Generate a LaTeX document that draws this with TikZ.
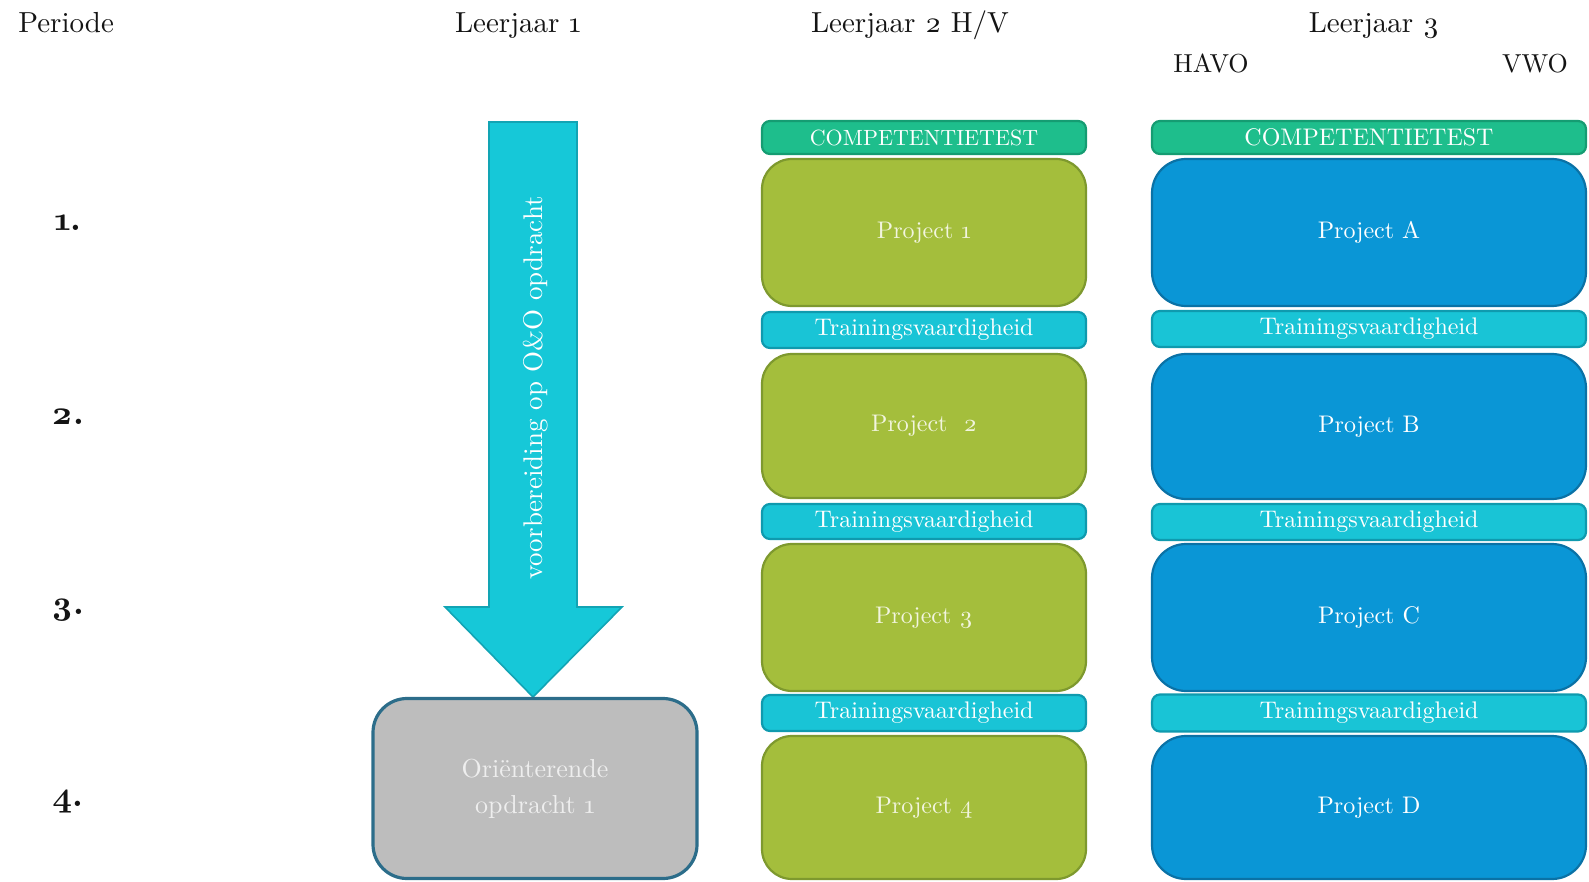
\documentclass[tikz,border=0pt]{standalone}
\usepackage{fontspec}
\setmainfont{lmroman10-regular.otf}[BoldFont=lmroman10-bold.otf,Numbers=OldStyle]
\definecolor{ctfill}{HTML}{1EBE8C}
\definecolor{ctdraw}{HTML}{159C72}
\definecolor{grfill}{HTML}{A4BE3C}
\definecolor{grdraw}{HTML}{7E992E}
\definecolor{grtext}{HTML}{F2F5DF}
\definecolor{trfill}{HTML}{19C4D6}
\definecolor{trdraw}{HTML}{0F9AAE}
\definecolor{blfill}{HTML}{0A96D6}
\definecolor{bldraw}{HTML}{0A72A6}
\definecolor{arfill}{HTML}{16C8D8}
\definecolor{ardraw}{HTML}{12A4B4}
\definecolor{gyfill}{HTML}{BDBDBD}
\definecolor{gydraw}{HTML}{2C6D8A}
\definecolor{gytext}{HTML}{EEEEEE}
\definecolor{hdtext}{HTML}{141414}
\begin{document}
\begin{tikzpicture}[x=0.5pt,y=-0.5pt,
  box/.style={draw, line width=1.1pt, inner sep=0pt, text=white},
  ctbox/.style={box, fill=ctfill, draw=ctdraw, rounded corners=4pt, minimum height=16.5pt},
  trbox/.style={box, fill=trfill, draw=trdraw, rounded corners=4pt, font=\fontsize{12}{14}\selectfont},
  gproj/.style={box, fill=grfill, draw=grdraw, rounded corners=15pt, text=grtext, font=\fontsize{12}{14}\selectfont},
  bproj/.style={box, fill=blfill, draw=bldraw, rounded corners=17pt, font=\fontsize{12}{14}\selectfont},
  coltwo/.style={minimum width=162pt},
  colthree/.style={minimum width=217pt},
  hdr/.style={anchor=base, inner sep=0pt, text=hdtext, font=\fontsize{14.5}{16}\selectfont},
  subhdr/.style={anchor=base, inner sep=0pt, text=hdtext, font=\fontsize{13}{15}\selectfont},
  num/.style={anchor=base, inner sep=0pt, text=hdtext, font=\bfseries\fontsize{17}{19}\selectfont}]
\useasboundingbox (0,0) rectangle (1589,882);

% headers
\node[hdr, anchor=base west] (hper) at (18,33) {Periode};
\node[hdr] (hone) at (518,33) {Leerjaar 1};
\node[hdr] (htwo) at (910,33) {Leerjaar 2 H/V};
\node[hdr] (hthree) at (1374,33) {Leerjaar 3};
\node[subhdr] (havo) at (1211,73) {HAVO};
\node[subhdr] (vwo) at (1535,73) {VWO};

% period numbers
\node[num] (nA) at (68,231) {1.};
\node[num] (nB) at (68,424) {2.};
\node[num] (nC) at (68,614) {3.};
\node[num] (nD) at (68,806) {4.};

% Leerjaar 1: arrow and box
\draw[fill=arfill, draw=ardraw, line width=0.8pt]
  (489,122) -- (577,122) -- (577,607) -- (622,607) -- (533,697) -- (445,607) -- (489,607) -- cycle;
\node[rotate=90, text=white, inner sep=0pt, font=\fontsize{13.5}{15}\selectfont] (prep) at (536,388) {voorbereiding op O\&O opdracht};
\node[box, fill=gyfill, draw=gydraw, line width=1.6pt, rounded corners=17pt,
      minimum width=162pt, minimum height=90pt, align=center, text=gytext,
      font=\fontsize{13}{18}\selectfont] (ori) at (535,788.5) {Oriënterende\\opdracht 1};

% Leerjaar 2
\node[ctbox, coltwo, font=\fontsize{11}{13}\selectfont] (cttwo) at (924,137.5) {COMPETENTIETEST};
\node[gproj, coltwo, minimum height=73.5pt] (pone) at (924,232.5) {Project 1};
\node[trbox, coltwo, minimum height=18pt] (tone) at (924,330) {Trainingsvaardigheid};
\node[gproj, coltwo, minimum height=72pt] (ptwo) at (924,426) {Project\ \ 2};
\node[trbox, coltwo, minimum height=17.5pt] (ttwo) at (924,521.5) {Trainingsvaardigheid};
\node[gproj, coltwo, minimum height=73.5pt] (pthree) at (924,617.5) {Project 3};
\node[trbox, coltwo, minimum height=18pt] (tthree) at (924,713) {Trainingsvaardigheid};
\node[gproj, coltwo, minimum height=71.5pt] (pfour) at (924,807.5) {Project 4};

% Leerjaar 3
\node[ctbox, colthree, font=\fontsize{12}{14}\selectfont] (ctthree) at (1369,137.5) {COMPETENTIETEST};
\node[bproj, colthree, minimum height=73.5pt] (pa) at (1369,232.5) {Project A};
\node[trbox, colthree, minimum height=18pt] (ua) at (1369,329) {Trainingsvaardigheid};
\node[bproj, colthree, minimum height=72.5pt] (pb) at (1369,426.5) {Project B};
\node[trbox, colthree, minimum height=18pt] (ub) at (1369,522) {Trainingsvaardigheid};
\node[bproj, colthree, minimum height=73.5pt] (pc) at (1369,617.5) {Project C};
\node[trbox, colthree, minimum height=18.5pt] (uc) at (1369,713) {Trainingsvaardigheid};
\node[bproj, colthree, minimum height=71.5pt] (pd) at (1369,807.5) {Project D};
\end{tikzpicture}
\end{document}
